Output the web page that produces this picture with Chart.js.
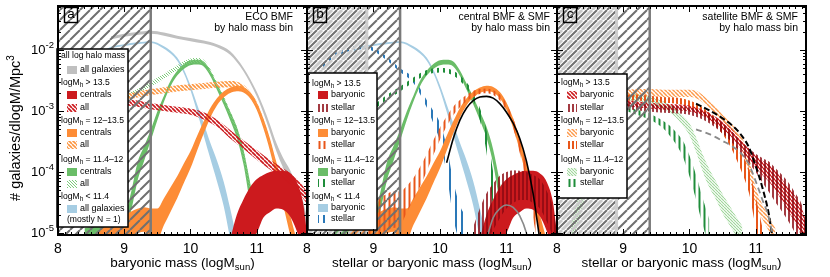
<!DOCTYPE html>
<html>
<head>
<meta charset="utf-8">
<title>ECO BMF by halo mass bin</title>
<script src="https://cdn.jsdelivr.net/npm/chart.js@4.4.1/dist/chart.umd.min.js"></script>
<style>
  body { margin: 0; background: #fff; }
  #wrap { position: relative; width: 830px; height: 277px; overflow: hidden; }
  canvas { position: absolute; top: 0; }
</style>
</head>
<body>
<div id="wrap">
  <canvas id="panelA" width="310" height="277" style="left:0px"></canvas>
  <canvas id="panelB" width="264" height="277" style="left:297px"></canvas>
  <canvas id="panelC" width="283" height="277" style="left:547px"></canvas>
</div>
<script>
// axes
const massMin = 8, massMax = 11.76;
const logPhiMin = -5.033, logPhiMax = -1.279;
const massTicks = [8, 9, 10, 11];
const phiTickExps = [-5, -4, -3, -2];
const completeMass = 9.4;     // baryonic completeness
const stellarLimit = 8.9;     // stellar mass completeness

// all values are log10(phi); err = half width of the band in dex
// all galaxies, all halo masses
const allGalMass = [8.8, 9.0, 9.2, 9.4, 9.6, 9.8, 10.0, 10.2, 10.4, 10.6, 10.8, 11.0, 11.1, 11.2, 11.3, 11.4, 11.5, 11.6, 11.7, 11.8];
const allGalPhi = [-1.80, -1.76, -1.73, -1.71, -1.74, -1.79, -1.83, -1.87, -1.93, -2.05, -2.32, -2.72, -2.98, -3.28, -3.60, -3.85, -4.05, -4.30, -4.60, -5.10];
const allGalErr = [0.025, 0.025, 0.025, 0.025, 0.025, 0.025, 0.025, 0.025, 0.025, 0.03, 0.03, 0.04, 0.05, 0.06, 0.07, 0.08, 0.09, 0.1, 0.12, 0.15];

// logMh < 11.4 (baryonic)
const lowMass = [8.7, 8.8, 9.0, 9.2, 9.4, 9.6, 9.8, 9.9, 10.0, 10.1, 10.2, 10.3, 10.4, 10.5, 10.6, 10.7];
const lowPhi = [-2.02, -1.96, -1.92, -1.89, -1.87, -1.96, -2.15, -2.35, -2.62, -2.95, -3.30, -3.65, -3.98, -4.35, -4.85, -5.4];
const lowErr = [0.015, 0.015, 0.015, 0.015, 0.015, 0.02, 0.025, 0.03, 0.04, 0.06, 0.1, 0.13, 0.17, 0.2, 0.25, 0.3];

// logMh = 11.4-12 centrals (baryonic)
const midMass = [8.4, 8.6, 8.8, 9.0, 9.1, 9.2, 9.3, 9.4, 9.5, 9.6, 9.7, 9.8, 9.9, 10.0, 10.1, 10.2, 10.3, 10.4, 10.5, 10.6, 10.7, 10.8, 10.9, 11.0];
const midPhi = [-5.0, -4.96, -4.93, -4.85, -4.5, -4.0, -3.7, -3.4, -3.08, -2.8, -2.55, -2.38, -2.27, -2.21, -2.2, -2.23, -2.38, -2.6, -2.83, -3.08, -3.35, -3.75, -4.35, -5.0];
const midErr = [0.08, 0.08, 0.08, 0.1, 0.15, 0.15, 0.12, 0.09, 0.07, 0.05, 0.045, 0.04, 0.04, 0.04, 0.04, 0.04, 0.045, 0.05, 0.06, 0.07, 0.09, 0.12, 0.18, 0.25];
// logMh = 11.4-12 all
const midAllMass = [8.8, 9.0, 9.2, 9.4, 9.6, 9.8, 10.0, 10.1, 10.2, 10.3, 10.4, 10.5, 10.6, 10.7, 10.8, 10.9, 11.0];
const midAllPhi = [-2.85, -2.78, -2.68, -2.56, -2.43, -2.29, -2.18, -2.17, -2.2, -2.35, -2.57, -2.8, -3.05, -3.32, -3.72, -4.3, -5.0];
const midAllErr = [0.04, 0.04, 0.04, 0.04, 0.04, 0.04, 0.04, 0.04, 0.04, 0.04, 0.04, 0.05, 0.05, 0.06, 0.08, 0.1, 0.12];

// logMh = 12-13.5 centrals (baryonic)
const grpMass = [8.5, 8.7, 8.9, 9.1, 9.3, 9.4, 9.5, 9.6, 9.7, 9.8, 9.9, 10.0, 10.1, 10.2, 10.3, 10.4, 10.5, 10.6, 10.7, 10.8, 10.9, 11.0, 11.1, 11.2, 11.3, 11.4, 11.5, 11.6];
const grpPhi = [-5.3, -5.1, -4.95, -4.85, -4.78, -4.85, -4.85, -4.65, -4.45, -4.25, -4.02, -3.8, -3.53, -3.27, -3.03, -2.85, -2.73, -2.66, -2.63, -2.65, -2.74, -2.92, -3.2, -3.55, -3.97, -4.4, -4.85, -5.3];
const grpErr = [0.2, 0.2, 0.2, 0.2, 0.2, 0.25, 0.25, 0.22, 0.2, 0.18, 0.16, 0.14, 0.12, 0.1, 0.08, 0.06, 0.05, 0.045, 0.045, 0.045, 0.05, 0.06, 0.08, 0.1, 0.12, 0.14, 0.16, 0.2];
// logMh = 12-13.5 all
const grpAllMass = [8.8, 9.0, 9.2, 9.4, 9.6, 9.8, 10.0, 10.2, 10.4, 10.6, 10.7, 10.8, 10.9, 11.0, 11.1, 11.2, 11.3, 11.4, 11.5, 11.6];
const grpAllPhi = [-2.84, -2.78, -2.73, -2.69, -2.66, -2.63, -2.61, -2.59, -2.57, -2.56, -2.57, -2.62, -2.73, -2.9, -3.18, -3.53, -3.95, -4.38, -4.83, -5.3];
const grpAllErr = [0.05, 0.05, 0.05, 0.05, 0.05, 0.05, 0.05, 0.05, 0.05, 0.05, 0.05, 0.05, 0.05, 0.05, 0.05, 0.05, 0.05, 0.05, 0.05, 0.05];

// logMh > 13.5 centrals (baryonic)
const cluMass = [10.6, 10.7, 10.8, 10.9, 11.0, 11.1, 11.2, 11.3, 11.4, 11.5, 11.6, 11.7, 11.76];
const cluPhi = [-5.35, -5.03, -4.83, -4.68, -4.56, -4.4, -4.33, -4.29, -4.3, -4.37, -4.55, -4.9, -5.3];
const cluErr = [0.25, 0.33, 0.38, 0.43, 0.44, 0.35, 0.33, 0.31, 0.32, 0.35, 0.4, 0.4, 0.3];
// logMh > 13.5 all
const cluAllMass = [8.8, 9.0, 9.2, 9.4, 9.6, 9.8, 10.0, 10.2, 10.4, 10.6, 10.8, 11.0, 11.2, 11.4, 11.6, 11.76];
const cluAllPhi = [-2.82, -2.85, -2.88, -2.92, -2.95, -2.98, -3.01, -3.08, -3.2, -3.38, -3.55, -3.72, -3.88, -4.03, -4.2, -4.42];
const cluAllErr = [0.05, 0.05, 0.05, 0.05, 0.05, 0.05, 0.05, 0.06, 0.06, 0.07, 0.07, 0.08, 0.08, 0.09, 0.1, 0.1];

// central stellar mass functions
const lowStMass = [8.2, 8.4, 8.6, 8.8, 9.0, 9.2, 9.4, 9.6, 9.8, 9.9, 10.0, 10.1, 10.2, 10.3, 10.4];
const lowStPhi = [-2.3, -2.1, -2.0, -1.96, -1.99, -2.14, -2.33, -2.5, -2.88, -3.1, -3.35, -3.8, -4.45, -4.85, -5.0];
const lowStErr = [0.03, 0.03, 0.03, 0.03, 0.03, 0.03, 0.03, 0.04, 0.06, 0.1, 0.15, 0.22, 0.3, 0.3, 0.25];
const midStMass = [8.9, 9.0, 9.2, 9.4, 9.6, 9.8, 10.0, 10.2, 10.4, 10.5, 10.6, 10.7, 10.8, 10.9];
const midStPhi = [-3.05, -2.95, -2.78, -2.64, -2.49, -2.37, -2.33, -2.38, -2.58, -2.76, -3.05, -3.5, -4.3, -5.0];
const midStErr = [0.05, 0.04, 0.04, 0.04, 0.04, 0.04, 0.04, 0.04, 0.05, 0.06, 0.1, 0.18, 0.3, 0.35];
const grpStMass = [8.9, 9.0, 9.1, 9.2, 9.3, 9.4, 9.5, 9.6, 9.7, 9.8, 9.9, 10.0, 10.1, 10.2, 10.3, 10.4, 10.5, 10.6, 10.7, 10.8, 10.9, 11.0, 11.1, 11.2, 11.3, 11.4, 11.5];
const grpStPhi = [-4.85, -4.8, -4.72, -4.66, -4.62, -4.6, -4.45, -4.28, -4.08, -3.85, -3.6, -3.37, -3.17, -3.0, -2.88, -2.79, -2.72, -2.68, -2.67, -2.7, -2.78, -2.94, -3.2, -3.57, -4.05, -4.55, -5.1];
const grpStErr = [0.3, 0.3, 0.3, 0.3, 0.3, 0.28, 0.22, 0.18, 0.16, 0.14, 0.12, 0.1, 0.08, 0.07, 0.06, 0.05, 0.05, 0.04, 0.04, 0.04, 0.05, 0.06, 0.08, 0.12, 0.15, 0.2, 0.3];
const cluStMass = [10.5, 10.6, 10.7, 10.8, 10.9, 11.0, 11.1, 11.2, 11.3, 11.4, 11.5, 11.6, 11.7, 11.76];
const cluStPhi = [-5.2, -4.95, -4.73, -4.57, -4.41, -4.3, -4.24, -4.22, -4.23, -4.28, -4.36, -4.55, -4.85, -5.25];
const cluStErr = [0.3, 0.35, 0.38, 0.38, 0.35, 0.3, 0.27, 0.24, 0.23, 0.23, 0.24, 0.25, 0.25, 0.25];
// fits (central panel)
const cenFitMass = [10.1, 10.2, 10.3, 10.4, 10.5, 10.6, 10.7, 10.8, 10.9, 11.0, 11.1, 11.2, 11.3, 11.4, 11.5];
const cenFitPhi = [-3.85, -3.45, -3.15, -2.95, -2.83, -2.77, -2.76, -2.79, -2.88, -3.02, -3.2, -3.45, -3.82, -4.35, -5.1];
const cluFitMass = [10.7, 10.8, 10.9, 11.0, 11.1, 11.2, 11.3, 11.35];
const cluFitPhi = [-5.1, -4.75, -4.6, -4.54, -4.58, -4.72, -5.0, -5.25];

// satellites
const satCluMass = [9.0, 9.2, 9.4, 9.6, 9.8, 10.0, 10.2, 10.4, 10.6, 10.8, 11.0, 11.1, 11.2, 11.3, 11.4, 11.5, 11.6, 11.7, 11.76];
const satCluBPhi = [-2.86, -2.89, -2.91, -2.93, -2.94, -2.96, -3.03, -3.16, -3.32, -3.58, -3.83, -3.93, -4.02, -4.14, -4.3, -4.46, -4.62, -4.85, -5.1];
const satCluBErr = [0.05, 0.05, 0.05, 0.05, 0.05, 0.05, 0.05, 0.06, 0.07, 0.08, 0.1, 0.12, 0.14, 0.16, 0.18, 0.2, 0.22, 0.25, 0.28];
const satCluSPhi = [-2.9, -2.93, -2.95, -2.97, -2.98, -3.0, -3.07, -3.2, -3.38, -3.62, -3.85, -3.97, -4.08, -4.22, -4.35, -4.5, -4.68, -4.9, -5.2];
const satCluSErr = [0.06, 0.06, 0.06, 0.06, 0.06, 0.06, 0.07, 0.08, 0.09, 0.1, 0.15, 0.2, 0.25, 0.28, 0.3, 0.32, 0.33, 0.35, 0.35];
const satGrpBMass = [9.0, 9.2, 9.4, 9.6, 9.8, 10.0, 10.1, 10.2, 10.3, 10.4, 10.5, 10.6, 10.7, 10.8, 10.9, 11.0, 11.1, 11.2, 11.3];
const satGrpBPhi = [-2.72, -2.7, -2.7, -2.71, -2.71, -2.71, -2.73, -2.8, -2.9, -3.0, -3.12, -3.24, -3.38, -3.55, -3.9, -4.4, -4.65, -4.85, -5.05];
const satGrpBErr = [0.06, 0.06, 0.06, 0.06, 0.06, 0.06, 0.06, 0.06, 0.06, 0.06, 0.06, 0.07, 0.08, 0.1, 0.15, 0.15, 0.12, 0.12, 0.12];
const satGrpSMass = [9.0, 9.2, 9.4, 9.6, 9.8, 10.0, 10.2, 10.3, 10.4, 10.5, 10.6, 10.7, 10.8, 10.9, 11.0, 11.05, 11.1];
const satGrpSPhi = [-2.78, -2.78, -2.8, -2.82, -2.83, -2.88, -3.0, -3.09, -3.18, -3.3, -3.45, -3.65, -3.88, -4.15, -4.65, -4.9, -5.2];
const satGrpSErr = [0.05, 0.05, 0.05, 0.05, 0.05, 0.05, 0.06, 0.06, 0.07, 0.08, 0.1, 0.12, 0.15, 0.2, 0.25, 0.25, 0.3];
const satMidBMass = [8.2, 8.3, 8.4, 8.5, 8.6, 8.8, 9.0, 9.2, 9.4, 9.6, 9.8, 9.9, 10.0, 10.1, 10.2, 10.3, 10.4, 10.5, 10.6, 10.7, 10.8];
const satMidBPhi = [-5.1, -4.7, -4.3, -3.9, -3.5, -3.0, -2.78, -2.78, -2.83, -2.9, -3.04, -3.16, -3.3, -3.55, -3.85, -4.1, -4.3, -4.52, -4.7, -4.88, -5.05];
const satMidBErr = [0.2, 0.2, 0.2, 0.2, 0.2, 0.1, 0.06, 0.06, 0.06, 0.06, 0.07, 0.08, 0.1, 0.12, 0.14, 0.15, 0.15, 0.16, 0.16, 0.16, 0.16];
const satMidSMass = [9.0, 9.2, 9.4, 9.5, 9.6, 9.7, 9.8, 9.9, 10.0, 10.1, 10.2, 10.3];
const satMidSPhi = [-2.95, -3.02, -3.09, -3.15, -3.22, -3.32, -3.45, -3.62, -3.9, -4.25, -4.65, -5.0];
const satMidSErr = [0.04, 0.04, 0.05, 0.05, 0.06, 0.08, 0.1, 0.13, 0.17, 0.2, 0.22, 0.22];
const satFitMass = [10.1, 10.3, 10.5, 10.7, 10.8, 10.9, 11.0, 11.1, 11.2, 11.25];
const satFitPhi = [-2.88, -2.99, -3.12, -3.29, -3.42, -3.6, -3.9, -4.25, -4.7, -5.05];
const satCluFitPhi = [-3.3, -3.38, -3.49, -3.62, -3.72, -3.88, -4.15, -4.45, -4.75, -5.0];

const FONT = '"Liberation Sans", Arial, Helvetica, sans-serif';

function hatch(color, size, width, dir) {
  const c = document.createElement('canvas');
  c.width = c.height = size;
  const g = c.getContext('2d');
  g.strokeStyle = color;
  g.lineWidth = width;
  g.beginPath();
  if (dir === '|') {
    g.moveTo(size / 2, -1); g.lineTo(size / 2, size + 1);
  } else {
    for (let k = -1; k <= 1; k++) {
      if (dir === '/') { g.moveTo(k * size, size); g.lineTo(k * size + size, 0); }
      else { g.moveTo(k * size, 0); g.lineTo(k * size + size, size); }
    }
  }
  g.stroke();
  return g.createPattern(c, 'repeat');
}

function doubleHatch(size) {
  const c = document.createElement('canvas');
  c.width = c.height = size;
  const g = c.getContext('2d');
  g.lineWidth = 3; g.strokeStyle = '#c9c9c9';
  g.beginPath();
  for (let k = -1; k <= 1; k++) { g.moveTo(k * size + size / 2, size); g.lineTo(k * size + size * 1.5, 0); }
  g.stroke();
  g.lineWidth = 2; g.strokeStyle = '#707070';
  g.beginPath();
  for (let k = -1; k <= 1; k++) { g.moveTo(k * size, size); g.lineTo(k * size + size, 0); }
  g.stroke();
  return g.createPattern(c, 'repeat');
}

const col = {
  gray: '#c0c0c0', lightBlue: '#a6cde3', blue: '#2a78b8',
  green: '#6abd68', darkGreen: '#1f8d3a', lightGreen: '#9ed699',
  orange: '#fd8c36', darkOrange: '#e8561a',
  red: '#cc1a1e', darkRed: '#8c0a12'
};
const pat = {
  limit: hatch('#707070', 10, 2, '/'),
  limit2: doubleHatch(10),
  redAll: hatch(col.red, 4, 1.7, '\\'),
  orangeAll: hatch('#fd9640', 4, 1.6, '\\'),
  greenAll: hatch('#7ccc7a', 3, 1, '\\'),
  redSat: hatch(col.red, 4, 1.6, '\\'),
  orangeSat: hatch('#fd9a4c', 4, 1.5, '\\'),
  greenSat: hatch(col.lightGreen, 3, 1.1, '\\'),
  blueSt: hatch(col.blue, 6, 2, '|'),
  greenSt: hatch(col.darkGreen, 6, 2, '|'),
  orangeSt: hatch(col.darkOrange, 5, 2, '|'),
  redSt: hatch(col.darkRed, 4, 1.6, '|'),
  orangeStC: hatch(col.darkOrange, 4, 2, '|'),
  greenStC: hatch(col.darkGreen, 5, 2, '|')
};

const pts = (xs, ys, off, sign) => xs.map((x, i) => ({ x, y: Math.pow(10, ys[i] + (off ? sign * off[i] : 0)) }));

function band(xs, mid, err, fill, layer) {
  const common = { borderColor: 'rgba(0,0,0,0)', borderWidth: 0, order: -layer, cubicInterpolationMode: 'monotone' };
  return [
    Object.assign({ data: pts(xs, mid, err, 1), fill: '+1', backgroundColor: fill }, common),
    Object.assign({ data: pts(xs, mid, err, -1), fill: false }, common)
  ];
}
function curve(xs, ys, color, layer, dash, width) {
  return { data: pts(xs, ys), fill: false, borderColor: color, borderWidth: width || 1.6,
    borderDash: dash || [], order: -layer, cubicInterpolationMode: 'monotone' };
}

function rich(ctx, parts, x, y, align) {
  let w = 0;
  parts.forEach(p => { ctx.font = p[1] + 'px ' + FONT; w += ctx.measureText(p[0]).width; });
  let cx = align === 'right' ? x - w : align === 'center' ? x - w / 2 : x;
  ctx.textAlign = 'left';
  parts.forEach(p => {
    ctx.font = p[1] + 'px ' + FONT;
    ctx.fillText(p[0], cx, y + (p[2] || 0));
    cx += ctx.measureText(p[0]).width;
  });
}

function drawLegend(ctx, a, lg) {
  const bx = a.left + lg.dx, by = lg.y;
  ctx.save();
  ctx.fillStyle = '#fff';
  ctx.fillRect(bx, by, lg.w, lg.h);
  ctx.strokeStyle = '#000'; ctx.lineWidth = 1.5;
  ctx.strokeRect(bx, by, lg.w, lg.h);
  ctx.textBaseline = 'middle';
  lg.rows.forEach(r => {
    const ry = by + r.dy;
    if (r.swatch) {
      ctx.fillStyle = r.swatch;
      ctx.fillRect(bx + 10, ry - 4, 10, 8);
      ctx.fillStyle = '#000';
      rich(ctx, [[r.label, 9]], bx + 23, ry);
    } else if (r.halo) {
      ctx.fillStyle = '#000';
      rich(ctx, [['logM', 8.6], ['h', 6.4, 2.5], [r.halo, 8.6]], bx + 4, ry);
    } else {
      ctx.fillStyle = '#000';
      rich(ctx, [[r.text, 8.6]], bx + (r.indent || 4), ry);
    }
  });
  ctx.restore();
}

function vline(ctx, px, a, color, w) {
  ctx.strokeStyle = color; ctx.lineWidth = w;
  ctx.beginPath(); ctx.moveTo(px, a.top); ctx.lineTo(px, a.bottom); ctx.stroke();
}

// per-panel decorations, looked up by canvas id
const panelInfo = {};

const decor = {
  id: 'decor',
  afterDatasetsDraw(chart) {
    const o = panelInfo[chart.canvas.id];
    const { ctx, chartArea: a } = chart;
    const x = chart.scales.x, y = chart.scales.y;
    const H = a.bottom - a.top;
    ctx.save();
    ctx.beginPath(); ctx.rect(a.left, a.top, a.right - a.left, H); ctx.clip();
    const xc = x.getPixelForValue(completeMass);
    if (o.stellar) {
      const xs = x.getPixelForValue(stellarLimit);
      ctx.fillStyle = pat.limit2; ctx.fillRect(a.left, a.top, xs - a.left, H);
      ctx.fillStyle = pat.limit; ctx.fillRect(xs, a.top, xc - xs, H);
      vline(ctx, xs, a, '#cdcdcd', 3);
    } else {
      ctx.fillStyle = pat.limit; ctx.fillRect(a.left, a.top, xc - a.left, H);
    }
    vline(ctx, xc, a, '#7a7a7a', 2.5);
    ctx.restore();

    drawLegend(ctx, a, o.legend);

    // frame and inward ticks
    ctx.save();
    ctx.strokeStyle = '#000'; ctx.lineWidth = 1;
    ctx.beginPath();
    for (let e = -6; e <= -1; e++) {
      for (let k = 1; k <= 9; k++) {
        const v = k * Math.pow(10, e);
        if (v < y.min || v > y.max) continue;
        const py = Math.round(y.getPixelForValue(v)) + 0.5;
        const len = k === 1 ? 6 : 3;
        ctx.moveTo(a.left, py); ctx.lineTo(a.left + len, py);
        ctx.moveTo(a.right, py); ctx.lineTo(a.right - len, py);
      }
    }
    for (let m = 80; m <= 118; m++) {
      const v = m / 10;
      if (v < x.min || v > x.max) continue;
      const px = Math.round(x.getPixelForValue(v)) + 0.5;
      const len = m % 10 === 0 ? 6 : 3;
      ctx.moveTo(px, a.bottom); ctx.lineTo(px, a.bottom - len);
      ctx.moveTo(px, a.top); ctx.lineTo(px, a.top + len);
    }
    ctx.stroke();
    ctx.lineWidth = 2;
    ctx.strokeRect(a.left, a.top, a.right - a.left, H);

    // panel letter
    ctx.lineWidth = 1.4;
    ctx.strokeRect(a.left + 6.5, a.top + 1.5, 13, 15);
    ctx.fillStyle = '#000';
    ctx.textBaseline = 'middle';
    rich(ctx, [[o.letter, 13.5]], a.left + 13, a.top + 8.5, 'center');

    // title
    ctx.textBaseline = 'alphabetic';
    rich(ctx, [[o.title[0], 10.5]], a.right + o.titleDx, 20, 'right');
    rich(ctx, [[o.title[1], 10.5]], a.right + o.titleDx, 30.5, 'right');

    // mass axis
    massTicks.forEach(v => rich(ctx, [[String(v), 14]], x.getPixelForValue(v), 252.5, 'center'));
    rich(ctx, [[o.xTitle, 13.5], ['sun', 9.5, 3], [')', 13.5]], (a.left + a.right) / 2, 267, 'center');

    // phi axis
    if (o.yAxis) {
      phiTickExps.forEach(e => {
        const py = y.getPixelForValue(Math.pow(10, e));
        rich(ctx, [['10', 13], ['-' + (-e), 9.5, -6]], a.left - 4, py + 4.5, 'right');
      });
      ctx.save();
      ctx.translate(16, 128);
      ctx.rotate(-Math.PI / 2);
      ctx.textBaseline = 'middle';
      rich(ctx, [['# galaxies/dlogM/Mpc', 14.5], ['3', 10, -5]], 0, 0, 'center');
      ctx.restore();
    }
    ctx.restore();
  }
};

function makePanel(id, datasets, pad, info) {
  panelInfo[id] = info;
  return new Chart(document.getElementById(id), {
    type: 'line',
    data: { datasets },
    options: {
      responsive: false, animation: false, events: [],
      layout: { padding: pad },
      elements: { point: { radius: 0 } },
      plugins: { legend: { display: false }, tooltip: { enabled: false } },
      scales: {
        x: { type: 'linear', min: massMin, max: massMax, display: false },
        y: { type: 'logarithmic', min: Math.pow(10, logPhiMin), max: Math.pow(10, logPhiMax), display: false }
      }
    },
    plugins: [decor]
  });
}

// panel a: ECO BMF
makePanel('panelA', [
  ...band(allGalMass, allGalPhi, allGalErr, col.gray, 1),
  ...band(lowMass, lowPhi, lowErr, col.lightBlue, 2),
  ...band(midMass, midPhi, midErr, col.green, 3),
  ...band(midAllMass, midAllPhi, midAllErr, pat.greenAll, 4),
  ...band(grpMass, grpPhi, grpErr, col.orange, 5),
  ...band(grpAllMass, grpAllPhi, grpAllErr, pat.orangeAll, 6),
  ...band(cluMass, cluPhi, cluErr, col.red, 7),
  ...band(cluAllMass, cluAllPhi, cluAllErr, pat.redAll, 8)
], { left: 58, right: 3, top: 6, bottom: 42 }, {
  letter: 'a', title: ['ECO BMF', 'by halo mass bin'], titleDx: -14,
  xTitle: 'baryonic mass (logM', yAxis: true, stellar: false,
  legend: { dx: -1, y: 49, w: 71, h: 178, rows: [
    { text: 'all log halo mass', dy: 7 },
    { swatch: col.gray, label: 'all galaxies', dy: 21 },
    { halo: ' > 13.5', dy: 34 },
    { swatch: col.red, label: 'centrals', dy: 46 },
    { swatch: pat.redAll, label: 'all', dy: 59 },
    { halo: ' = 12\u201313.5', dy: 72 },
    { swatch: col.orange, label: 'centrals', dy: 84 },
    { swatch: pat.orangeAll, label: 'all', dy: 96 },
    { halo: ' = 11.4\u201312', dy: 111 },
    { swatch: col.green, label: 'centrals', dy: 123 },
    { swatch: pat.greenAll, label: 'all', dy: 135 },
    { halo: ' < 11.4', dy: 148 },
    { swatch: col.lightBlue, label: 'all galaxies', dy: 160 },
    { text: '(mostly N = 1)', dy: 171, indent: 10 }
  ] }
});

// panel b: central BMF & SMF
makePanel('panelB', [
  ...band(lowMass, lowPhi, lowErr, col.lightBlue, 1),
  ...band(lowStMass, lowStPhi, lowStErr, pat.blueSt, 2),
  ...band(midMass, midPhi, midErr, col.green, 3),
  ...band(midStMass, midStPhi, midStErr, pat.greenSt, 4),
  ...band(grpMass, grpPhi, grpErr, col.orange, 5),
  ...band(grpStMass, grpStPhi, grpStErr, pat.orangeSt, 6),
  ...band(cluMass, cluPhi, cluErr, col.red, 7),
  ...band(cluStMass, cluStPhi, cluStErr, pat.redSt, 8),
  curve(cenFitMass, cenFitPhi, '#000', 9),
  curve(cluFitMass, cluFitPhi, '#8a8a8a', 10)
], { left: 10, right: 4, top: 6, bottom: 42 }, {
  letter: 'b', title: ['central BMF & SMF', 'by halo mass bin'], titleDx: -7,
  xTitle: 'stellar or baryonic mass (logM', yAxis: false, stellar: true,
  legend: { dx: 1, y: 73, w: 69, h: 157, rows: [
    { halo: ' > 13.5', dy: 11 },
    { swatch: col.red, label: 'baryonic', dy: 22 },
    { swatch: pat.redSt, label: 'stellar', dy: 35 },
    { halo: ' = 12\u201313.5', dy: 48 },
    { swatch: col.orange, label: 'baryonic', dy: 60 },
    { swatch: pat.orangeSt, label: 'stellar', dy: 72 },
    { halo: ' = 11.4\u201312', dy: 87 },
    { swatch: col.green, label: 'baryonic', dy: 99 },
    { swatch: pat.greenSt, label: 'stellar', dy: 110 },
    { halo: ' < 11.4', dy: 124 },
    { swatch: col.lightBlue, label: 'baryonic', dy: 135 },
    { swatch: pat.blueSt, label: 'stellar', dy: 146 }
  ] }
});

// panel c: satellite BMF & SMF
makePanel('panelC', [
  ...band(satMidBMass, satMidBPhi, satMidBErr, pat.greenSat, 1),
  ...band(satMidSMass, satMidSPhi, satMidSErr, pat.greenStC, 2),
  ...band(satGrpBMass, satGrpBPhi, satGrpBErr, pat.orangeSat, 3),
  ...band(satGrpSMass, satGrpSPhi, satGrpSErr, pat.orangeStC, 4),
  ...band(satCluMass, satCluBPhi, satCluBErr, pat.redSat, 5),
  ...band(satCluMass, satCluSPhi, satCluSErr, pat.redSt, 6),
  curve(satFitMass, satFitPhi, '#000', 7, [6, 3], 2),
  curve(satFitMass, satCluFitPhi, '#8a8a8a', 8, [6, 4], 1.8)
], { left: 10, right: 24, top: 6, bottom: 42 }, {
  letter: 'c', title: ['satellite BMF & SMF', 'by halo mass bin'], titleDx: -8,
  xTitle: 'stellar or baryonic mass (logM', yAxis: false, stellar: true,
  legend: { dx: 0, y: 74, w: 70, h: 124, rows: [
    { halo: ' > 13.5', dy: 9 },
    { swatch: pat.redSat, label: 'baryonic', dy: 21 },
    { swatch: pat.redSt, label: 'stellar', dy: 34 },
    { halo: ' = 12\u201313.5', dy: 47 },
    { swatch: pat.orangeSat, label: 'baryonic', dy: 59 },
    { swatch: pat.orangeStC, label: 'stellar', dy: 71 },
    { halo: ' = 11.4\u201312', dy: 86 },
    { swatch: pat.greenSat, label: 'baryonic', dy: 98 },
    { swatch: pat.greenStC, label: 'stellar', dy: 109 }
  ] }
});
</script>
</body>
</html>
